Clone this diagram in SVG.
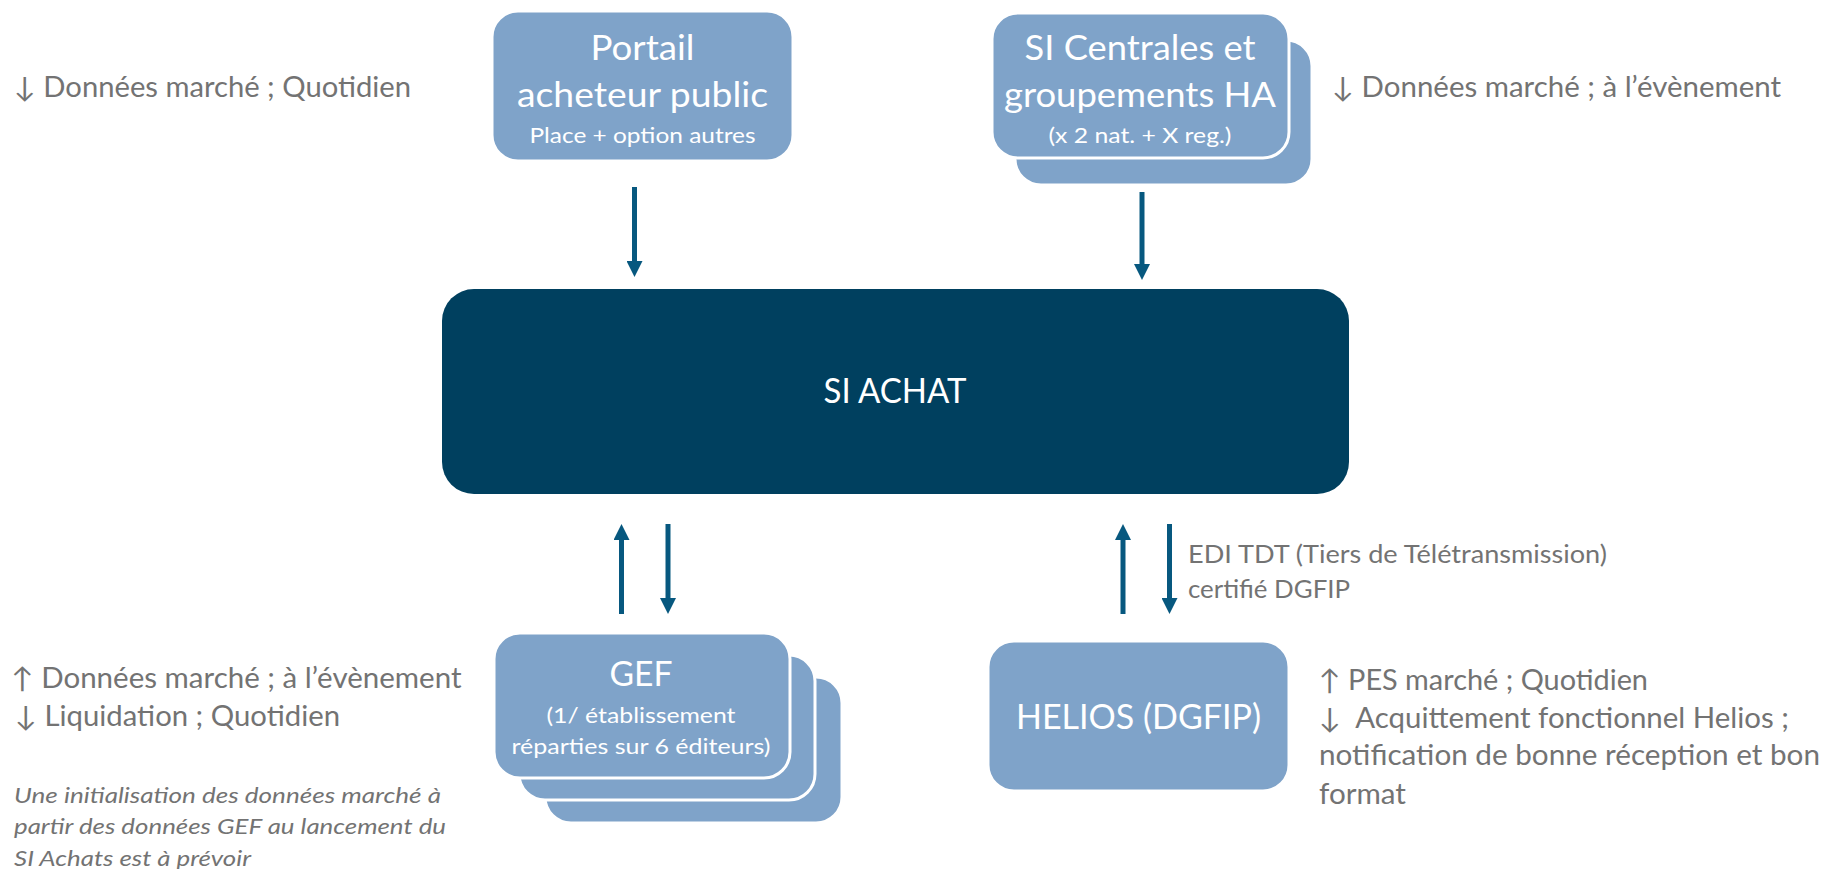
<svg xmlns="http://www.w3.org/2000/svg" width="1827" height="869" viewBox="0 0 1827 869">
<style>
.node{fill:#7FA3C9;stroke:#fff;stroke-width:3}
.core{fill:#00405F}
.wt{fill:#fff;font-family:Lato,"Liberation Sans",sans-serif;text-anchor:middle}
.t1{font-size:35px}
.t2{font-size:21px}
.gt{fill:#737373;font-family:Lato,"Liberation Sans",sans-serif;font-size:28px}
.it{fill:#737373;font-family:Lato,"Liberation Sans",sans-serif;font-size:21.5px;font-style:italic}
.edi{fill:#737373;font-family:Lato,"Liberation Sans",sans-serif;font-size:25.5px}
.arr{stroke:#07587F;stroke-width:5;fill:none;marker-end:url(#ah)}
</style>
<defs>
<marker id="ah" markerUnits="userSpaceOnUse" markerWidth="16" markerHeight="16" viewBox="0 0 16 16" refX="1" refY="8" orient="auto">
<path d="M0,0 L16,8 L0,16 Z" fill="#07587F"/>
</marker>
</defs>
<rect width="1827" height="869" fill="#fff"/>

<g id="portail">
<rect class="node" x="492" y="11" width="301" height="150" rx="26"/>
<text class="wt t1" x="642.5" y="60" textLength="104" lengthAdjust="spacingAndGlyphs">Portail</text>
<text class="wt t1" x="642.5" y="107" textLength="251" lengthAdjust="spacingAndGlyphs">acheteur public</text>
<text class="wt t2" x="642.5" y="143" textLength="226" lengthAdjust="spacingAndGlyphs">Place + option autres</text>
</g>

<g id="si-centrales">
<rect class="node" x="1015" y="40" width="297" height="145" rx="26"/>
<rect class="node" x="992" y="13" width="297" height="145" rx="26"/>
<text class="wt t1" x="1140" y="60" textLength="231" lengthAdjust="spacingAndGlyphs">SI Centrales et</text>
<text class="wt t1" x="1140" y="107" textLength="272" lengthAdjust="spacingAndGlyphs">groupements HA</text>
<text class="wt t2" x="1140" y="143" textLength="183" lengthAdjust="spacingAndGlyphs">(x 2 nat. + X reg.)</text>
</g>

<g id="si-achat">
<rect class="core" x="442" y="289" width="907" height="205" rx="32"/>
<text class="wt" x="895" y="403" font-size="34" textLength="143" lengthAdjust="spacingAndGlyphs">SI ACHAT</text>
</g>

<g id="gef">
<rect class="node" x="545" y="677" width="297" height="146" rx="26"/>
<rect class="node" x="519" y="655" width="296" height="145" rx="26"/>
<rect class="node" x="494" y="633" width="296" height="145" rx="26"/>
<text class="wt t1" x="641" y="686" textLength="63" lengthAdjust="spacingAndGlyphs">GEF</text>
<text class="wt t2" x="641" y="723" textLength="189" lengthAdjust="spacingAndGlyphs">(1/ établissement</text>
<text class="wt t2" x="641" y="754" textLength="259" lengthAdjust="spacingAndGlyphs">réparties sur 6 éditeurs)</text>
</g>

<g id="helios">
<rect class="node" x="988" y="641" width="301" height="150" rx="26"/>
<text class="wt t1" x="1138.5" y="729" textLength="245" lengthAdjust="spacingAndGlyphs">HELIOS (DGFIP)</text>
</g>

<g id="connectors">
<path class="arr" d="M634.5,187 V262"/>
<path class="arr" d="M1142,192 V265"/>
<path class="arr" d="M621.5,614 V539"/>
<path class="arr" d="M668,524 V599"/>
<path class="arr" d="M1123,614 V539"/>
<path class="arr" d="M1169.5,524 V599"/>
</g>

<g id="labels">
<text class="gt" x="14" y="97" textLength="397" lengthAdjust="spacingAndGlyphs">↓ Données marché ; Quotidien</text>
<text class="gt" x="1332" y="97" textLength="449" lengthAdjust="spacingAndGlyphs">↓ Données marché ; à l’évènement</text>
<text class="gt" x="11.5" y="688" textLength="450" lengthAdjust="spacingAndGlyphs">↑ Données marché ; à l’évènement</text>
<text class="gt" x="15" y="726" textLength="325" lengthAdjust="spacingAndGlyphs">↓ Liquidation ; Quotidien</text>
<text class="it" x="14" y="803" textLength="427" lengthAdjust="spacingAndGlyphs">Une initialisation des données marché à</text>
<text class="it" x="14" y="834" textLength="432" lengthAdjust="spacingAndGlyphs">partir des données GEF au lancement du</text>
<text class="it" x="14" y="866" textLength="237" lengthAdjust="spacingAndGlyphs">SI Achats est à prévoir</text>
<text class="edi" x="1188" y="563" textLength="419" lengthAdjust="spacingAndGlyphs">EDI TDT (Tiers de Télétransmission)</text>
<text class="edi" x="1188" y="598" textLength="162" lengthAdjust="spacingAndGlyphs">certifié DGFIP</text>
<text class="gt" x="1319" y="690" textLength="329" lengthAdjust="spacingAndGlyphs">↑ PES marché ; Quotidien</text>
<text class="gt" x="1319" y="728" textLength="470" lengthAdjust="spacingAndGlyphs" xml:space="preserve">↓  Acquittement fonctionnel Helios ;</text>
<text class="gt" x="1319" y="765" textLength="501" lengthAdjust="spacingAndGlyphs">notification de bonne réception et bon</text>
<text class="gt" x="1319" y="804" textLength="87" lengthAdjust="spacingAndGlyphs">format</text>
</g>
</svg>
